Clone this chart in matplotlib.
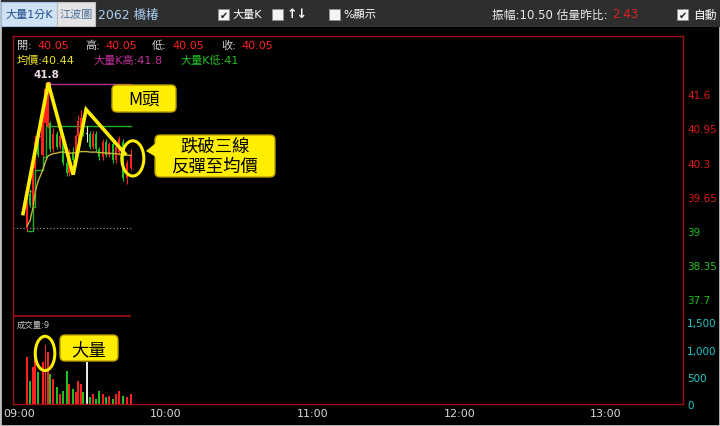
import matplotlib
matplotlib.use("Agg")
import matplotlib.pyplot as plt
import matplotlib.transforms as mtransforms
from matplotlib.patches import Rectangle, FancyBboxPatch, Ellipse, Polygon

plt.rcParams['font.family'] = ['DejaVu Sans', 'Noto Sans CJK TC']

# minutes after 09:00 for each big-volume 1-minute bar
bar_minutes = [3.3, 4.5, 5.7, 6.6, 7.8, 9.6, 10.8, 11.7, 12.7, 13.9, 15.5, 16.8, 18.0, 19.6, 20.4, 22.1, 23.3,
               24.1, 25.4, 26.2, 27.8, 29.0, 30.3, 31.5, 32.7, 34.4, 35.6, 36.8, 38.4, 39.7, 40.9, 42.5, 44.2, 45.8]
opens = [39.05, 39.70, 39.50, 40.20, 40.70, 40.45, 41.05, 41.00, 41.05, 40.55, 40.85, 40.60, 40.80, 40.30, 40.10, 40.50,
         40.35, 40.80, 40.95, 41.15, 40.85, 40.85, 40.60, 40.85, 40.55, 40.40, 40.70, 40.45, 40.65, 40.35, 40.50, 40.70,
         40.00, 40.20]
highs = [39.75, 39.80, 40.25, 40.80, 40.75, 41.25, 41.80, 41.75, 41.10, 40.95, 40.90, 40.85, 40.85, 40.40, 40.55, 40.60,
         40.85, 41.20, 41.30, 41.20, 41.00, 40.90, 40.90, 40.90, 40.60, 40.75, 40.75, 40.70, 40.70, 40.65, 40.80, 40.75,
         40.35, 40.55]
lows = [39.00, 39.45, 39.45, 40.15, 40.40, 40.40, 41.00, 40.95, 40.50, 40.50, 40.55, 40.55, 40.25, 40.05, 40.05, 40.30,
        40.30, 40.75, 40.90, 40.80, 40.70, 40.55, 40.55, 40.50, 40.35, 40.35, 40.40, 40.40, 40.30, 40.30, 40.45, 39.95,
        39.90, 40.15]
closes = [39.70, 39.50, 40.20, 40.70, 40.45, 41.20, 41.70, 41.55, 40.55, 40.85, 40.60, 40.80, 40.30, 40.10, 40.50, 40.35,
          40.80, 41.10, 41.15, 40.85, 40.85, 40.60, 40.85, 40.55, 40.40, 40.70, 40.45, 40.65, 40.35, 40.60, 40.75, 40.00,
          40.30, 40.45]
volumes = [870, 425, 685, 830, 590, 780, 1080, 950, 555, 460, 315, 185, 240, 610, 370, 280, 220, 425, 370, 220, 780,
           130, 185, 100, 240, 185, 130, 150, 100, 185, 240, 150, 130, 185]
avg_price = [39.10, 39.20, 39.45, 39.75, 39.95, 40.15, 40.32, 40.42, 40.45, 40.47, 40.48, 40.50, 40.50, 40.49, 40.48,
             40.48, 40.49, 40.50, 40.51, 40.51, 40.51, 40.50, 40.50, 40.50, 40.49, 40.49, 40.48, 40.48, 40.47, 40.47,
             40.46, 40.45, 40.44, 40.44]
big_k_high = [39.75, 39.75, 40.25, 40.80, 40.80, 41.25] + [41.80] * 28
big_k_low = [39.00, 39.00, 39.45, 40.15, 40.15, 40.40] + [41.00] * 28
ref_price = 39.05

time_ticks = [0, 60, 120, 180, 240]
time_labels = ['09:00', '10:00', '11:00', '12:00', '13:00']
price_ticks = [37.7, 38.35, 39, 39.65, 40.3, 40.95, 41.6]
volume_ticks = [0, 500, 1000, 1500]
volume_labels = ['0', '500', '1,000', '1,500']

# hand-drawn "M head" annotation (minute, price)
m_head_minutes = [1.6, 11.9, 22.1, 27.4, 43.3]
m_head_prices = [39.33, 41.81, 40.07, 41.31, 40.47]

RED = '#ff2020'
GREEN = '#1fc01f'
FRAME = '#a01018'
YELLOW = '#ffee00'

fig = plt.figure(figsize=(7.2, 4.27), dpi=100, facecolor='black')
pix = mtransforms.Affine2D().scale(0.01, -0.01).translate(0, 4.27) + fig.dpi_scale_trans

# window chrome / toolbar
fig.add_artist(Rectangle((0, 0), 720, 427, transform=pix, fc='none', ec='#c0c0c0', lw=2))
fig.add_artist(Rectangle((1, 1), 719, 27, transform=pix, fc='#2e2e2e', ec='none'))
fig.add_artist(Rectangle((1, 3), 56, 24, transform=pix, fc='#cfe2f3', ec='#9cbfe0', lw=0.8))
fig.add_artist(Rectangle((57, 3), 38, 24, transform=pix, fc='#e4e4e4', ec='#bdbdbd', lw=0.8))
fig.text(29, 15, '大量1分K', transform=pix, color='#1f4e8c', fontsize=8, ha='center', va='center')
fig.text(76, 15, '江波圖', transform=pix, color='#4a6f99', fontsize=8, ha='center', va='center')
fig.text(98, 15, '2062 橋椿', transform=pix, color='#a8cdf0', fontsize=9, va='center')
for bx, checked in [(218, True), (272, False), (329, False), (677, True)]:
    fig.add_artist(Rectangle((bx, 10), 11, 11, transform=pix, fc='#f4f4f4', ec='#909090', lw=0.6))
    if checked:
        fig.text(bx + 5.5, 15.5, '✔', transform=pix, color='#202020', fontsize=7, ha='center', va='center')
fig.text(232, 15, '大量K', transform=pix, color='white', fontsize=8, va='center')
fig.text(287, 15, '↑↓', transform=pix, color='white', fontsize=9, fontweight='bold', va='center')
fig.text(343, 15, '%顯示', transform=pix, color='white', fontsize=8, va='center')
fig.text(492, 15, '振幅:10.50 估量昨比:', transform=pix, color='#e8e8e8', fontsize=8.5, va='center')
fig.text(612, 15, '2.43', transform=pix, color='#e02020', fontsize=8.5, va='center')
fig.text(693, 15, '自動', transform=pix, color='white', fontsize=8.5, va='center')

ax = fig.add_axes([13 / 720, 1 - 317 / 427, 670 / 720, 280 / 427])
axv = fig.add_axes([13 / 720, 1 - 405 / 427, 670 / 720, 88 / 427], sharex=ax)

for a in (ax, axv):
    a.set_facecolor('black')
    for sp in a.spines.values():
        sp.set_color(FRAME)
        sp.set_linewidth(1)
ax.spines['bottom'].set_visible(False)
axv.spines['top'].set_visible(False)

ax.set_xlim(-2.5, 271.5)
ax.set_ylim(37.38, 42.71)
axv.set_ylim(0, 1618)

colors = [RED if c > o else GREEN if c < o else '#e8e8e8' for o, c in zip(opens, closes)]

# candles
ax.vlines(bar_minutes, lows, highs, colors=colors, lw=0.8, zorder=3)
ax.bar(bar_minutes, [max(abs(c - o), 0.02) for o, c in zip(opens, closes)],
       bottom=[min(o, c) for o, c in zip(opens, closes)], width=0.9, color=colors, zorder=3)

ax.plot(bar_minutes, avg_price, color='#c8b43c', lw=1, zorder=4)
ax.step(bar_minutes, big_k_high, where='post', color='#b0308c', lw=1, zorder=2)
ax.step(bar_minutes, big_k_low, where='post', color='#22b022', lw=1, zorder=2)
ax.hlines(ref_price, -2.5, bar_minutes[-1], colors='#a0a0a0', linestyles=(0, (1, 2)), lw=0.8)
ax.plot([m_head_minutes[1]], [max(highs)], 'o', color='#f08080', ms=3, zorder=5)

ax.plot(m_head_minutes, m_head_prices, color=YELLOW, lw=2.6, solid_joinstyle='miter', zorder=6)
ax.add_patch(Ellipse((46.5, 40.38), 9.0, 0.67, fc='none', ec=YELLOW, lw=2.2, zorder=6))

# volume
axv.bar(bar_minutes, volumes, width=0.8, color=colors)
axv.hlines(axv.get_ylim()[1], -2.5, bar_minutes[-1], colors=FRAME, lw=1.2, clip_on=False)
axv.add_patch(Ellipse((10.6, 930), 8.0, 630, fc='none', ec=YELLOW, lw=2.2, zorder=6))

# axes ticks
ax.yaxis.tick_right()
ax.set_yticks(price_ticks)
ax.set_yticklabels([f'{p:g}' for p in price_ticks])
ax.tick_params(axis='y', length=0, pad=3, labelsize=7.5)
for lab, p in zip(ax.get_yticklabels(), price_ticks):
    lab.set_color('#e01818' if p > 39 else '#20c020')
ax.tick_params(axis='x', bottom=False, labelbottom=False)

axv.yaxis.tick_right()
axv.set_yticks(volume_ticks)
axv.set_yticklabels(volume_labels)
axv.tick_params(axis='y', length=0, pad=3, labelsize=7.5, labelcolor='#20c8c8')
axv.set_xticks(time_ticks)
axv.set_xticklabels(time_labels)
axv.tick_params(axis='x', length=0, pad=3, labelsize=8, labelcolor='#d8d8d8')

# info text
info = [(17, '開:'), (85, '高:'), (152, '低:'), (221, '收:')]
for x, s in info:
    fig.text(x, 46, s, transform=pix, color='#d0d0d0', fontsize=8, va='center')
    fig.text(x + 20, 46, '40.05', transform=pix, color='#ff2020', fontsize=8, va='center')
fig.text(17, 61, '均價:40.44', transform=pix, color='#e8e020', fontsize=8, va='center')
fig.text(93, 61, '大量K高:41.8', transform=pix, color='#c0309a', fontsize=8, va='center')
fig.text(180, 61, '大量K低:41', transform=pix, color='#20c020', fontsize=8, va='center')
fig.text(46, 75, '41.8', transform=pix, color='#f0d8e8', fontsize=7.5, fontweight='bold', ha='center', va='center')
fig.text(17, 325, '成交量:9', transform=pix, color='#c8c8c8', fontsize=6, va='center')

# callouts
cjk = ['Noto Sans CJK TC', 'DejaVu Sans']
for x0, y0, w, h in [(112, 86, 64, 27), (155, 136, 120, 42), (60, 336, 58, 26)]:
    fig.add_artist(FancyBboxPatch((x0, y0), w, h, transform=pix, boxstyle='round,pad=0,rounding_size=5',
                                  fc=YELLOW, ec='#b89c00', lw=1, zorder=10))
fig.add_artist(Polygon([(156, 144), (146, 152), (156, 158)], transform=pix, fc=YELLOW, ec='none', zorder=11))
txt = dict(transform=pix, color='black', fontsize=12.5, family=cjk, fontweight='medium',
           ha='center', va='center', zorder=12)
fig.text(144, 100, 'M頭', **txt)
fig.text(215, 147, '跌破三線', **txt)
fig.text(215, 167, '反彈至均價', **txt)
fig.text(89, 350, '大量', **txt)

fig.savefig('out.png', dpi=100, facecolor='black')
